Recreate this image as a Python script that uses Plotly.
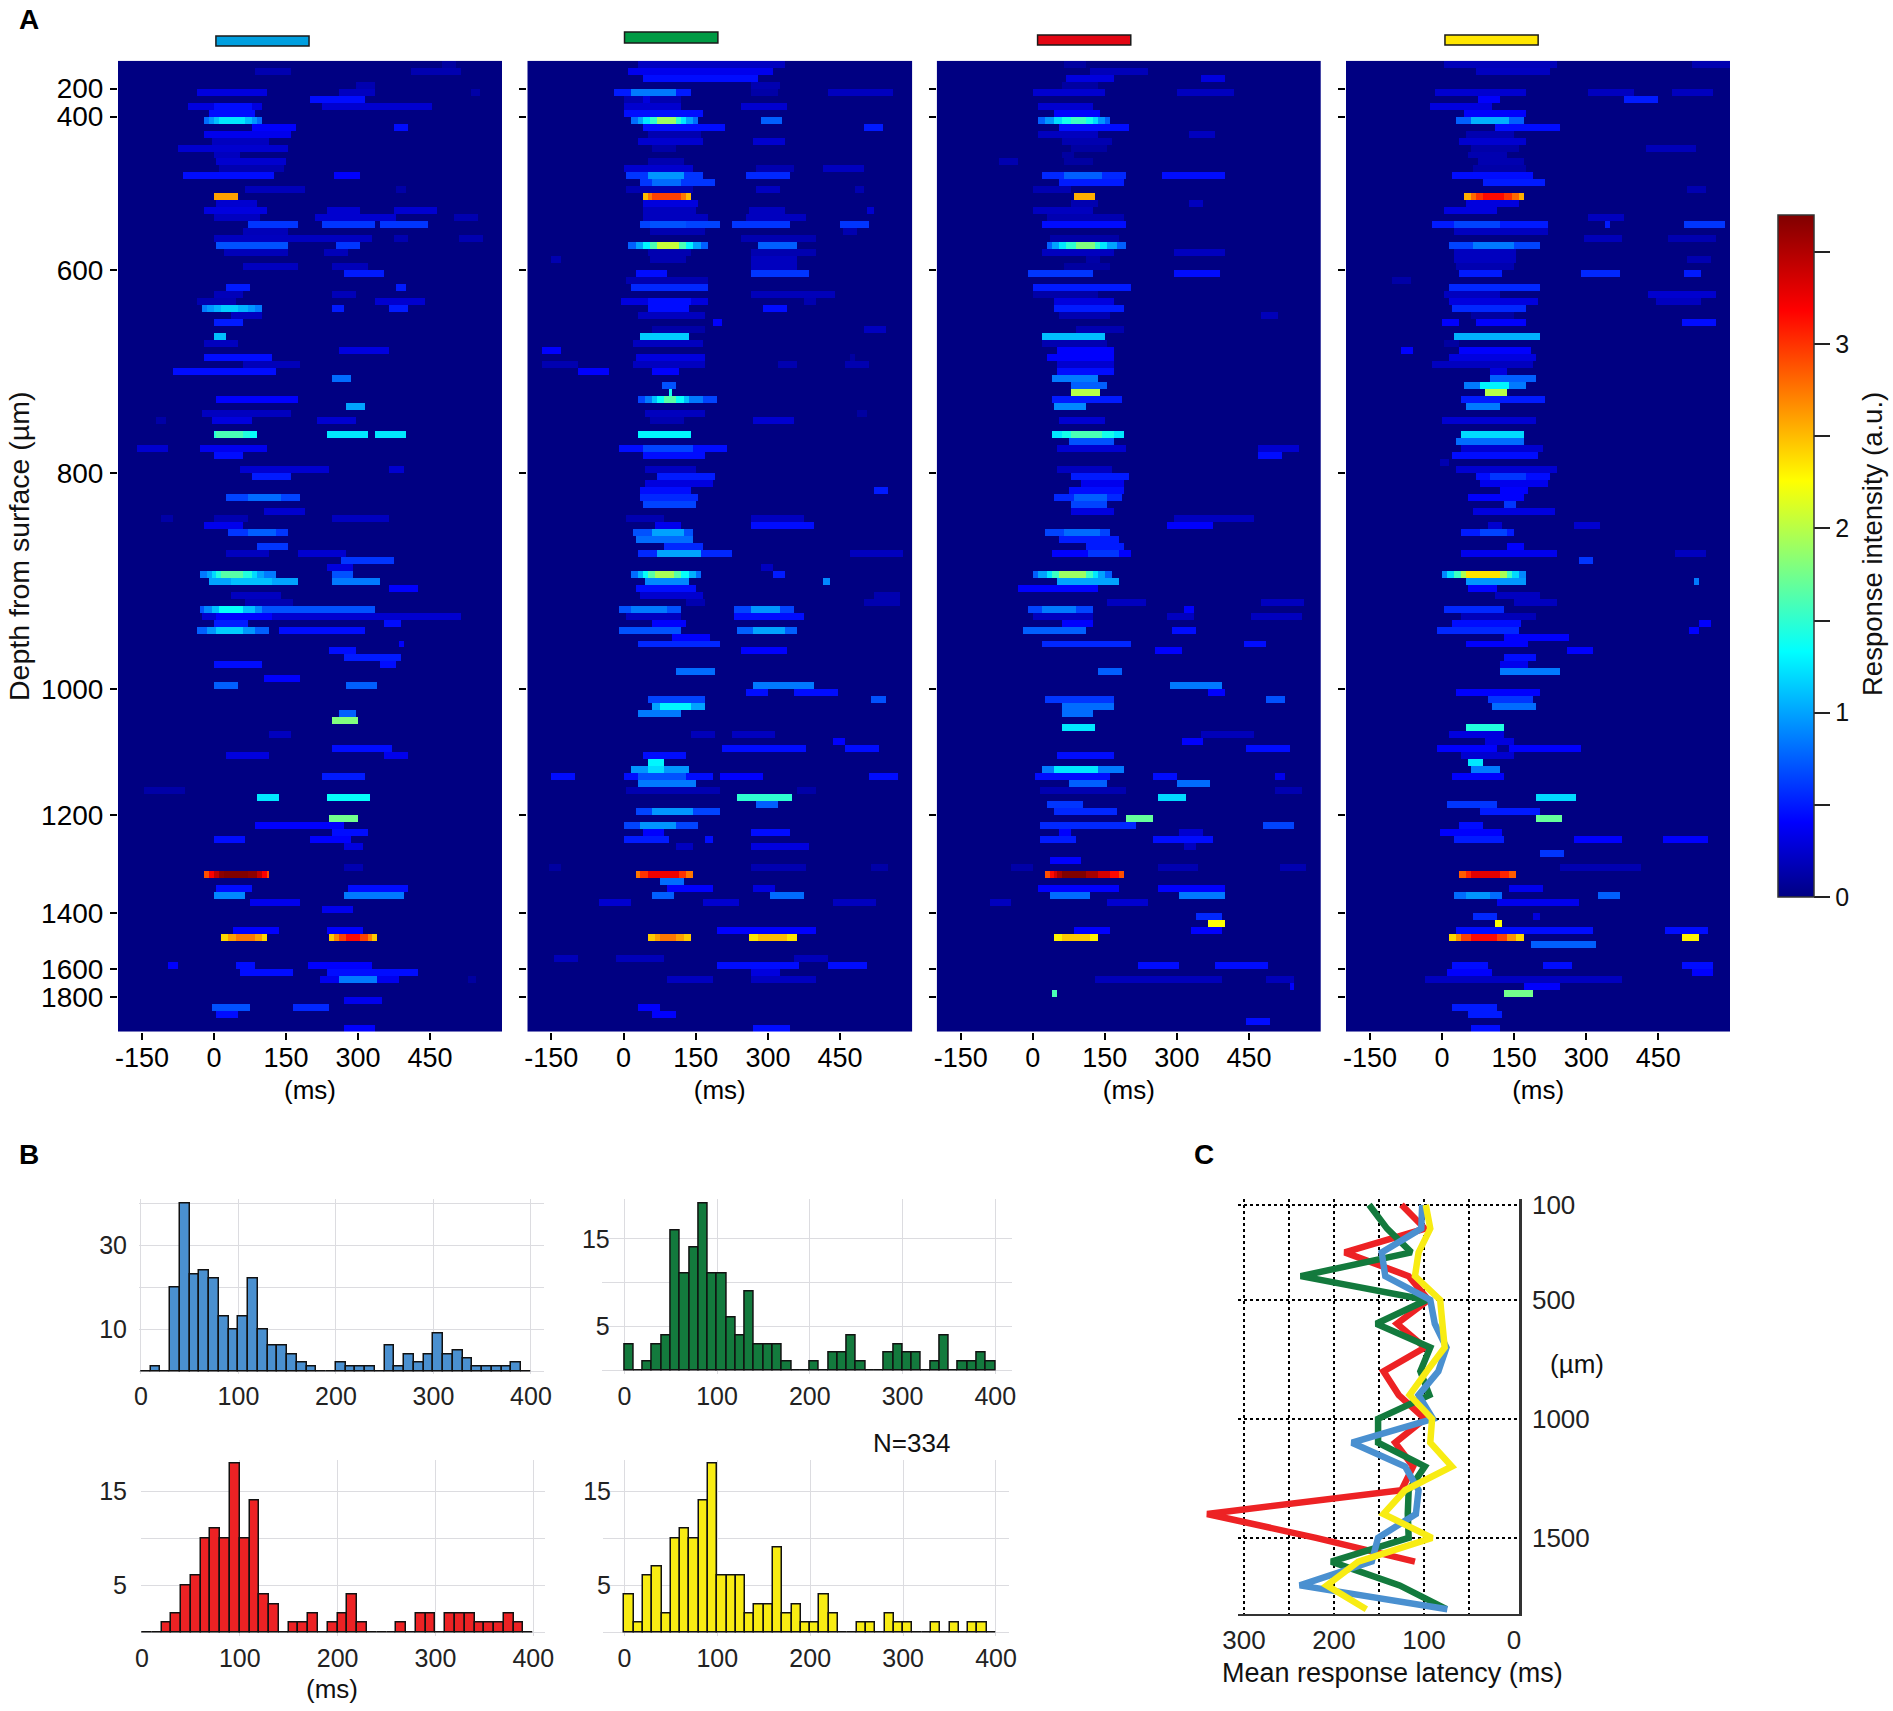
#!/usr/bin/env python3

import numpy as np
import plotly.graph_objects as go

W = 1893
H = 1711

# Panel A: (row, start ms, end ms, intensity). Later entries sit on top of earlier ones.
bars_blue = [
    (0, 477, 505, .1), (1, 87, 158, .15), (1, 410, 515, .15), (3, 297, 336, .15),
    (4, -37, 110, .3), (4, 258, 336, .2), (4, 533, 554, .12), (5, 198, 315, .45),
    (6, -55, 102, .3), (6, -2, 82, .45), (6, 227, 455, .25), (7, -9, 86, .45),
    (8, -22, 98, .8), (8, -12, 90, .95), (8, -2, 78, 1.1), (8, 10, 66, 1.25),
    (9, 82, 170, .4), (9, 375, 406, .45),
    (10, -20, 160, .35), (11, -6, 114, .2), (12, -76, 156, .25), (13, 1, 54, .2),
    (14, 5, 149, .25), (15, 12, 146, .15), (16, -63, 126, .45), (16, 251, 306, .4),
    (18, 65, 188, .18), (18, 382, 399, .12), (19, 0, 51, 2.6), (20, 5, 89, .25),
    (21, -18, 110, .3), (21, 234, 304, .25), (21, 377, 466, .25), (22, -2, 96, .2),
    (22, 209, 378, .25), (22, 501, 550, .15), (23, 72, 174, .6), (23, 227, 336, .6),
    (23, 343, 447, .6), (24, 61, 153, .18), (25, 1, 329, .2), (25, 375, 403, .15),
    (25, 508, 561, .15), (26, 3, 153, .7), (26, 255, 304, .6), (27, 19, 156, .18),
    (27, 230, 280, .18), (29, 60, 177, .2), (29, 244, 322, .18), (30, 272, 353, .5),
    (32, 23, 74, .5), (32, 382, 401, .5), (33, -2, 61, .18), (33, 244, 297, .18),
    (34, -34, 47, .15), (34, 336, 438, .25), (35, -27, 98, .85), (35, -15, 85, .95),
    (35, 0, 70, 1.05), (35, 15, 50, 1.15),
    (35, 243, 271, .5), (35, 367, 404, .5), (36, 33, 102, .2), (37, 1, 58, .5),
    (39, 0, 27, 1.1), (40, -21, 51, .2), (41, 262, 364, .3), (42, -20, 118, .45),
    (43, 61, 181, .18), (44, -83, 132, .45), (45, 245, 283, .8), (48, 7, 176, .4),
    (49, 276, 317, 1.0), (50, -23, 158, .2), (51, -6, 82, .3), (51, 216, 297, .25),
    (51, -120, -102, .12), (53, -2, 92, 1.35), (53, 0, 75, 1.45), (53, 5, 60, 1.6),
    (53, 237, 320, 1.25),
    (53, 333, 401, 1.25), (55, -158, -94, .25), (55, -28, 110, .35), (56, 0, 58, .45),
    (58, 53, 241, .25), (58, 367, 397, .25), (59, 81, 161, .5), (62, 26, 181, .65),
    (62, 70, 140, .8), (64, 107, 188, .25), (65, -108, -83, .12), (65, 1, 72, .15),
    (65, 244, 367, .2), (66, -20, 58, .35), (67, 31, 155, .6), (67, 70, 130, .75),
    (69, 88, 156, .6), (70, 25, 114, .2), (70, 177, 276, .25), (71, 263, 375, .6),
    (72, 236, 290, .3), (73, -30, 132, .85), (73, -15, 105, 1.0), (73, -5, 90, 1.2),
    (73, 5, 78, 1.45), (73, 15, 60, 1.65), (73, 246, 292, .7),
    (74, -11, 175, 1.0), (74, 33, 118, 1.1), (74, 246, 346, .85), (75, 364, 427, .4),
    (76, 33, 142, .2), (77, 65, 167, .15), (78, -29, 334, .7), (78, -20, 100, .9),
    (78, -5, 85, 1.1), (78, 10, 60, 1.35),
    (79, -27, 515, .25), (79, 5, 118, .4), (80, 0, 68, .5), (80, 353, 390, .45),
    (81, -36, 115, .75), (81, -15, 85, .95), (81, 5, 60, 1.15), (81, 133, 315, .45),
    (83, 384, 396, .4),
    (84, 242, 297, .45), (85, 269, 391, .5), (86, -1, 98, .45), (86, 343, 379, .45),
    (88, 107, 180, .4), (89, 0, 48, .75), (89, 275, 341, .75), (93, 258, 297, .75),
    (94, 246, 302, 1.8), (96, 115, 161, .2), (98, 247, 369, .45), (99, 27, 113, .3),
    (99, 353, 403, .35), (102, 225, 315, .5), (104, -146, -58, .12), (105, 92, 134, 1.25),
    (105, 234, 324, 1.35), (108, 238, 298, 1.75), (109, 84, 269, .4), (110, 244, 318, .45),
    (111, 0, 63, .45), (111, 199, 287, .4), (112, 271, 311, .3), (115, 269, 308, .15),
    (116, -18, 116, 2.9), (116, -10, 108, 3.2), (116, 0, 98, 3.45), (116, 8, 88, 3.65),
    (116, 18, 70, 3.72), (118, 3, 80, .45),
    (118, 280, 403, .45), (119, 0, 64, .9), (119, 269, 393, .85), (120, 75, 181, .35),
    (121, 225, 288, .35), (124, 39, 135, .4), (124, 234, 308, .4), (125, 15, 111, 2.4),
    (125, 30, 100, 2.6), (125, 45, 85, 2.75), (125, 241, 341, 2.45), (125, 250, 332, 2.7),
    (125, 262, 320, 2.95), (125, 275, 305, 3.15), (129, -95, -74, .4),
    (129, 44, 86, .45), (129, 197, 332, .4), (130, 54, 167, .45), (130, 237, 425, .45),
    (131, 221, 385, .35), (131, 258, 342, .85), (131, 529, 547, .1), (134, 272, 350, .35),
    (135, -6, 77, .7), (135, 165, 242, .55), (136, 3, 48, .45), (138, 269, 334, .4),
]

bars_green = [
    (0, 28, 333, .2), (1, 10, 312, .35), (2, 42, 281, .45), (3, 263, 326, .15),
    (4, -21, 139, .5), (4, 14, 111, .85), (4, 263, 319, .12), (4, 426, 558, .2),
    (5, 0, 118, .15), (5, 38, 55, .3), (6, 0, 118, .25), (6, 243, 340, .25),
    (7, 0, 163, .45), (8, 17, 156, .8), (8, 28, 145, 1.0), (8, 40, 130, 1.25),
    (8, 55, 120, 1.5), (8, 70, 110, 1.9),
    (8, 284, 329, .75), (9, 38, 209, .45), (9, 499, 541, .5), (10, 49, 159, .15),
    (11, 31, 163, .25), (11, 270, 336, .25), (12, 62, 111, .12), (14, 49, 125, .15),
    (15, 0, 146, .25), (15, 277, 353, .15), (15, 416, 499, .2), (16, 3, 163, .6),
    (16, 49, 125, .95), (16, 256, 343, .55), (17, 35, 191, .6), (17, 62, 118, .8),
    (18, 7, 146, .15), (18, 274, 326, .2), (18, 478, 499, .15), (19, 40, 142, 2.5),
    (19, 50, 130, 2.75), (19, 62, 118, 2.95), (20, 42, 156, .3), (21, 38, 152, .2),
    (21, 260, 333, .2),
    (21, 506, 518, .25), (22, 38, 173, .2), (22, 256, 378, .2), (23, 36, 199, .65),
    (23, 55, 132, .7), (23, 225, 343, .6), (23, 452, 508, .6), (24, 55, 170, .15),
    (24, 457, 485, .15), (25, 243, 398, .15), (26, 10, 175, .75), (26, 25, 160, 1.0),
    (26, 40, 145, 1.3), (26, 55, 130, 1.6), (26, 72, 115, 2.05),
    (26, 279, 362, .75), (27, 52, 139, .15), (27, 263, 398, .15),
    (28, -152, -128, .15), (28, 55, 132, .15), (28, 267, 360, .2), (29, 267, 360, .2),
    (30, 24, 89, .45), (30, 263, 387, .6), (31, 7, 173, .15), (32, 17, 175, .55),
    (33, 267, 440, .18), (34, -7, 175, .3), (34, 49, 139, .45), (34, 374, 398, .15),
    (35, 49, 135, .45), (35, 289, 340, .45), (36, 28, 170, .2), (37, 184, 204, .4),
    (38, 59, 170, .12), (38, 499, 547, .2), (39, 36, 134, 1.15), (40, 21, 166, .2),
    (41, -170, -128, .4), (42, 24, 170, .3), (42, 468, 482, .1), (43, -170, -97, .15),
    (43, 21, 170, .2), (43, 319, 360, .15), (43, 461, 509, .15), (44, -97, -28, .4),
    (44, 62, 116, .4), (46, 80, 111, .7), (47, 95, 100, 1.4), (48, 29, 195, .65),
    (48, 45, 165, .85), (48, 60, 135, 1.1), (48, 72, 125, 1.35), (48, 85, 110, 1.65),
    (50, 45, 170, .2), (50, 485, 506, .1),
    (51, 55, 125, .15), (51, 270, 357, .25), (53, 31, 142, 1.3), (55, -8, 213, .45),
    (55, 42, 146, .65), (56, 38, 170, .45), (58, 47, 149, .2), (59, 71, 188, .5),
    (60, 45, 187, .3), (61, 36, 139, .45), (61, 522, 551, .5), (62, 35, 156, .55),
    (63, 40, 148, .65), (65, 7, 83, .15), (65, 263, 374, .2), (66, 66, 118, .35),
    (66, 265, 395, .45), (67, 22, 147, .7), (67, 62, 125, 1.0), (68, 23, 146, .8),
    (69, 87, 164, .55), (70, 31, 227, .55), (70, 69, 159, 1.0), (70, 471, 579, .2),
    (72, 284, 310, .2), (73, 16, 161, .8), (73, 28, 150, 1.05), (73, 40, 135, 1.35),
    (73, 52, 120, 1.65), (73, 65, 105, 1.95),
    (73, 312, 335, .5), (74, 46, 137, .9), (74, 416, 431, .9), (75, 26, 149, .45),
    (76, 35, 166, .25), (76, 520, 575, .15), (77, 132, 170, .15), (77, 502, 575, .15),
    (78, -9, 121, .7), (78, 14, 90, .85), (78, 232, 357, .65), (78, 263, 326, .95),
    (79, 7, 118, .2), (79, 232, 374, .45), (80, 62, 128, .4), (81, -9, 120, .7),
    (81, 236, 362, .75), (81, 270, 333, 1.0), (82, 98, 182, .4), (83, 31, 201, .55),
    (84, 243, 342, .4), (87, 111, 189, .8), (89, 272, 393, .85), (90, 255, 299, .45),
    (90, 353, 444, .45), (91, 50, 172, .65), (91, 513, 545, .7), (92, 58, 170, 1.0),
    (92, 76, 139, 1.3), (93, 28, 119, .85), (96, 140, 188, .18), (96, 227, 315, .2),
    (97, 434, 459, .4), (98, 204, 378, .45), (98, 459, 530, .45), (99, 42, 130, .45),
    (100, 49, 85, 1.3), (101, 16, 134, .95), (101, 49, 85, 1.2), (102, -152, -100, .45),
    (102, -1, 187, .45), (102, 28, 132, .7), (102, 198, 288, .4), (102, 509, 572, .45),
    (103, 28, 151, .85), (104, 3, 201, .15), (104, 360, 398, .12), (105, 237, 352, 1.5),
    (106, 276, 321, .75), (107, 23, 199, .65), (107, 62, 146, .95), (109, 1, 157, .65),
    (109, 35, 111, .95), (110, 38, 83, .4), (110, 267, 346, .45), (111, 2, 97, .5),
    (111, 170, 185, .45), (112, 111, 146, .2), (112, 267, 387, .3), (115, -156, -128, .1),
    (115, 267, 378, .15), (115, 513, 551, .12), (116, 24, 144, 2.75), (116, 35, 130, 3.0),
    (116, 50, 115, 3.25),
    (117, 74, 126, .8), (118, 90, 187, .4), (118, 270, 315, .3), (119, 59, 107, .75),
    (119, 305, 376, .8), (120, -49, 16, .25), (120, 163, 241, .25), (120, 437, 527, .2),
    (124, 196, 398, .4), (125, 51, 139, 2.45), (125, 65, 125, 2.6), (125, 75, 110, 2.75),
    (125, 258, 360, 2.35),
    (125, 280, 340, 2.5), (128, -146, -94, .18), (128, -14, 83, .18), (128, 353, 423, .18),
    (129, 194, 367, .45), (129, 426, 504, .45), (130, 265, 327, .3), (131, 90, 187, .2),
    (131, 263, 402, .2), (135, 29, 73, .4), (136, 60, 109, .4), (138, 270, 343, .45),
]

bars_red = [
    (0, 64, 109, .1), (1, 119, 240, .18), (2, 72, 168, .3), (2, 351, 402, .3),
    (3, 60, 133, .1), (4, -2, 150, .25), (4, 299, 421, .2), (6, 8, 123, .25),
    (7, 46, 140, .4), (8, 10, 162, .75), (8, 25, 150, .95), (8, 45, 135, 1.2),
    (8, 62, 125, 1.4), (8, 78, 112, 1.55),
    (9, 57, 200, .45), (10, 12, 133, .2), (10, 327, 381, .2), (11, 60, 164, .15),
    (12, 78, 154, .1), (13, 60, 85, .1), (14, -71, -30, .15), (14, 67, 123, .1),
    (16, 22, 195, .55), (16, 64, 147, .75), (16, 268, 400, .45), (17, 55, 192, .5),
    (18, 1, 78, .15), (19, 83, 128, 2.55), (20, 78, 133, .15), (20, 324, 355, .2),
    (21, 1, 126, .2), (22, 29, 192, .15), (23, 22, 193, .45), (25, 33, 178, .12),
    (26, 29, 193, .75), (26, 42, 175, 1.0), (26, 57, 155, 1.25), (26, 72, 140, 1.5),
    (26, 88, 128, 1.8), (27, 19, 168, .2),
    (27, 296, 400, .2), (28, 109, 140, .12), (29, 64, 161, .1), (30, -8, 124, .6),
    (30, 295, 389, .45), (32, 0, 207, .5), (33, 1, 133, .12), (34, 46, 171, .3),
    (35, 44, 188, .5), (36, 57, 161, .15), (36, 473, 511, .18), (38, 88, 188, .15),
    (39, 21, 152, 1.1), (40, 22, 154, .15), (41, 49, 171, .4), (42, 29, 171, .4),
    (43, 50, 171, .25), (44, 49, 171, .45), (45, 38, 137, .85), (46, 78, 155, .75),
    (47, 82, 139, 2.0), (48, 38, 187, .5), (49, 43, 111, .9), (51, 57, 150, .25),
    (53, 41, 191, 1.25), (53, 60, 170, 1.4), (53, 78, 147, 1.6), (54, 74, 168, .7),
    (55, 49, 195, .25),
    (55, 468, 557, .25), (56, 468, 521, .45), (58, 49, 166, .2), (59, 78, 202, .5),
    (60, 98, 192, .35), (61, 76, 192, .45), (62, 46, 183, .55), (62, 85, 154, .75),
    (63, 80, 154, .65), (64, 78, 170, .3), (65, 296, 459, .2), (66, 279, 377, .4),
    (67, 26, 159, .65), (67, 64, 140, .8), (68, 55, 182, .5), (69, 109, 190, .5),
    (70, 41, 206, .4), (70, 113, 182, .6), (73, -2, 164, .75), (73, 12, 150, 1.0),
    (73, 28, 135, 1.25), (73, 42, 125, 1.55), (73, 55, 110, 1.9),
    (74, 48, 180, 1.0), (75, -28, 137, .4), (77, 154, 237, .2),
    (77, 477, 566, .2), (78, -9, 124, .65), (78, 22, 92, .85), (78, 315, 335, .4),
    (79, -2, 123, .2), (79, 282, 334, .2), (79, 455, 558, .2), (80, 58, 123, .4),
    (81, -21, 109, .75), (81, 292, 341, .45), (83, 19, 206, .55), (83, 441, 486, .45),
    (84, 256, 310, .4), (87, 133, 183, .75), (89, 283, 396, .85), (90, 365, 400, .4),
    (91, 26, 168, .6), (91, 484, 525, .7), (92, 59, 168, .8), (93, 59, 123, .8),
    (95, 60, 128, 1.25), (96, 348, 462, .18), (97, 308, 355, .4), (98, 445, 536, .45),
    (99, 49, 172, .45), (101, 22, 192, .85), (101, 43, 133, 1.25), (102, 3, 159, .45),
    (102, 251, 301, .45), (102, 507, 527, .35), (103, 76, 154, .75), (103, 301, 371, .8),
    (104, 17, 195, .15), (104, 507, 558, .15), (105, 258, 322, 1.2), (106, 29, 107, .6),
    (107, 44, 175, .55), (108, 193, 252, 1.7), (109, 13, 217, .55), (109, 480, 546, .65),
    (110, 53, 78, .4), (110, 306, 355, .25), (111, 17, 89, .5), (111, 251, 377, .45),
    (112, 315, 339, .2), (114, 36, 102, .4), (115, -44, 1, .12), (115, 261, 347, .15),
    (115, 514, 570, .15), (116, 26, 191, 2.9), (116, 35, 178, 3.15), (116, 43, 160, 3.35),
    (116, 52, 135, 3.55), (116, 62, 110, 3.72),
    (118, 10, 180, .4), (118, 259, 400, .4), (119, 33, 118, .8), (119, 305, 400, .85),
    (120, -92, -44, .2), (120, 154, 238, .25), (122, 339, 393, .55), (123, 366, 400, 2.25),
    (124, 86, 161, .4), (124, 329, 395, .4), (125, 44, 134, 2.3), (125, 62, 118, 2.45),
    (129, 220, 306, .45), (129, 381, 488, .45), (131, 131, 396, .18), (131, 486, 545, .18),
    (132, 535, 547, .4), (133, 42, 51, 1.6), (137, 446, 493, .45),
]

bars_yellow = [
    (0, 3, 238, .18), (0, 519, 599, .15), (1, 72, 225, .2), (4, -15, 173, .25),
    (4, 304, 401, .2), (4, 481, 564, .2), (5, 76, 121, .4), (5, 380, 448, .5),
    (6, -24, 103, .3), (7, 46, 176, .4), (8, 30, 171, .75), (8, 58, 141, 1.05),
    (9, 110, 245, .45), (10, 48, 148, .15), (11, 34, 176, .25), (12, 58, 162, .12),
    (12, 425, 529, .18), (13, 55, 134, .15), (14, 76, 169, .15), (15, 65, 173, .12),
    (16, 22, 191, .45), (17, 86, 214, .5), (18, 512, 550, .15), (19, 46, 171, 2.55),
    (19, 58, 158, 2.8), (19, 70, 145, 3.0), (19, 85, 130, 3.15),
    (20, 51, 159, .3), (21, 3, 114, .3), (22, 304, 380, .2),
    (23, -20, 218, .5), (23, 24, 121, .65), (23, 339, 349, .5), (23, 505, 588, .6),
    (24, 24, 218, .2), (25, 297, 373, .18), (25, 470, 568, .15), (26, 17, 205, .65),
    (26, 65, 148, .85), (27, 27, 155, .2), (28, 27, 155, .2), (28, 509, 561, .15),
    (29, 31, 148, .15), (30, 33, 126, .5), (30, 289, 369, .55), (30, 504, 538, .5),
    (31, -105, -63, .12), (32, 15, 205, .55), (33, 3, 121, .2), (33, 429, 571, .25),
    (34, 13, 200, .3), (34, 446, 540, .2), (35, 22, 175, .55), (36, 58, 148, .1),
    (37, -1, 33, .4), (37, 72, 173, .4), (37, 502, 570, .45), (39, 27, 204, 1.05),
    (40, 6, 37, .1), (41, -87, -58, .4), (41, 37, 183, .4), (42, 17, 193, .3),
    (43, -21, 190, .2), (44, 98, 137, .3), (45, 100, 197, .75), (46, 43, 173, .85),
    (46, 79, 141, 1.3), (47, 88, 137, 2.0), (48, 39, 216, .5), (49, 48, 121, .85),
    (51, 1, 197, .25), (53, 42, 170, 1.2), (54, 30, 169, .8), (55, 41, 211, .25),
    (56, 22, 200, .45), (57, -6, 17, .15), (58, 30, 240, .25), (59, 72, 223, .45),
    (59, 100, 176, .6), (60, 79, 221, .35), (61, 119, 181, .4), (62, 57, 168, .4),
    (63, 128, 157, .6), (64, 63, 233, .3), (66, 96, 123, .25), (66, 273, 328, .25),
    (67, 41, 152, .5), (67, 79, 135, .65), (69, 134, 170, .4), (70, 39, 238, .35),
    (70, 486, 550, .2), (71, 286, 315, .6), (73, -1, 174, .9), (73, 12, 160, 1.2),
    (73, 25, 145, 1.55), (73, 38, 135, 1.95), (73, 50, 118, 2.35),
    (74, 50, 176, .95), (74, 523, 535, .85), (75, 53, 114, .4),
    (76, 110, 207, .2), (77, 148, 242, .2), (78, 4, 130, .55), (79, 41, 197, .18),
    (80, 18, 167, .45), (80, 536, 559, .4), (81, -11, 159, .55), (81, 516, 533, .4),
    (82, 129, 263, .4), (83, 49, 178, .4), (84, 259, 313, .4), (85, 130, 197, .45),
    (86, 118, 178, .35), (87, 119, 244, .85), (90, 32, 206, .4), (91, 94, 188, .6),
    (92, 107, 197, .8), (95, 50, 128, 1.45), (96, 13, 128, .3), (97, 89, 148, .3),
    (98, -9, 290, .4), (98, 114, 138, .05), (99, 41, 152, .25), (100, 57, 83, 1.25),
    (101, 62, 118, .85), (102, 18, 132, .4), (105, 195, 278, 1.2), (106, 8, 117, .6),
    (107, 81, 204, .5), (108, 193, 249, 1.7), (109, 37, 87, .45), (110, -7, 123, .4),
    (111, 24, 128, .5), (111, 274, 374, .4), (111, 459, 554, .4), (113, 204, 256, .6),
    (115, 245, 415, .15), (116, 34, 155, 2.85), (116, 48, 140, 3.05), (116, 62, 120, 3.3),
    (118, 138, 212, .35),
    (119, 24, 124, .8), (119, 51, 100, .95), (119, 326, 370, .75), (120, 114, 287, .35),
    (122, 63, 114, .55), (122, 191, 204, .3), (123, 108, 123, 2.25), (124, 32, 313, .45),
    (124, 465, 556, .45), (125, 15, 168, 2.4), (125, 28, 155, 2.65), (125, 42, 135, 2.95),
    (125, 60, 115, 3.15), (125, 500, 536, 2.3),
    (126, 183, 319, .75), (129, 18, 96, .45), (129, 212, 270, .45), (129, 500, 567, .45),
    (130, 8, 103, .4), (130, 519, 567, .4), (131, -35, 377, .2), (132, 168, 244, .4),
    (133, 130, 192, 1.75), (135, 20, 114, .5), (136, 55, 123, .5), (138, 58, 119, .45),
]

n_rows = 139
time_bins = np.arange(-197.5, 600, 5)
depth_labels = [200, 400, 600, 800, 1000, 1200, 1400, 1600, 1800]
depth_rows = [4, 8, 30, 59, 90, 108, 122, 130, 134]
time_ticks = [-150, 0, 150, 300, 450]
time_labels = ["-150", "0", "150", "300", "450"]
intensity_ticks = [0, .5, 1, 1.5, 2, 2.5, 3, 3.5]
intensity_labels = ["0", "", "1", "", "2", "", "3", ""]
stim_start = [4, 2, 10, 6]
stim_end = [198, 196, 204, 200]

# Panel B: counts in 10 ms bins
hist_bins = np.arange(5, 400, 10)
hist_blue = [0, 1, 0, 20, 40, 23, 24, 22, 13, 10, 13, 22, 10, 6, 6, 4, 2, 1, 0, 0,
             2, 1, 1, 1, 0, 6, 1, 4, 2, 4, 9, 4, 5, 3, 1, 1, 1, 1, 2, 0]
hist_green = [3, 0, 1, 3, 4, 16, 11, 14, 19, 11, 11, 6, 4, 9, 3, 3, 3, 1, 0, 0,
              1, 0, 2, 2, 4, 1, 0, 0, 2, 3, 2, 2, 0, 1, 4, 0, 1, 1, 2, 1]
hist_red = [0, 0, 1, 2, 5, 6, 10, 11, 10, 18, 10, 14, 4, 3, 0, 1, 1, 2, 0, 1,
            2, 4, 1, 0, 0, 0, 1, 0, 2, 2, 0, 2, 2, 2, 1, 1, 1, 2, 1, 0]
hist_yellow = [4, 1, 6, 7, 2, 10, 11, 10, 14, 18, 6, 6, 6, 2, 3, 3, 9, 2, 3, 1,
               1, 4, 2, 0, 0, 1, 1, 0, 2, 1, 1, 0, 0, 1, 0, 1, 0, 1, 1, 0]

# Panel C
latency_depth = [100, 200, 300, 400, 500, 600, 700, 800, 900, 1000, 1100, 1200, 1300,
                 1400, 1500, 1600, 1700, 1800]
latency_red = [125, 99, 188, 117, 95, 130, 99, 145, 128, 99, 132, 112, 125, 341, 220, 110]
latency_green = [161, 141, 114, 237, 97, 153, 93, 104, 94, 151, 151, 99, 117, 118, 117, 203, 127, 75]
latency_blue = [102, 103, 147, 143, 93, 88, 75, 84, 106, 90, 180, 121, 106, 109, 151, 158, 238, 74]
latency_yellow = [98, 93, 106, 110, 82, 80, 77, 97, 116, 91, 93, 69, 121, 145, 91, 173, 208, 164]

blue = "#4A90D0"
green = "#137A3D"
red = "#ED2224"
yellow = "#F8EC13"
jet = [[0, "rgb(0,0,130)"], [.11, "rgb(0,0,255)"], [.36, "rgb(0,255,255)"],
       [.61, "rgb(255,255,0)"], [.86, "rgb(255,0,0)"], [1, "rgb(128,0,0)"]]
sans = "Liberation Sans"


def dx(left, right):
    return [left / W, right / W]


def dy(top, bottom):
    return [1 - bottom / H, 1 - top / H]


def rows_to_z(bars):
    z = np.zeros((n_rows, len(time_bins)))
    for row, t0, t1, value in bars:
        z[row, (time_bins >= t0) & (time_bins < t1)] = value
    return z


fig = go.Figure()

panels = [bars_blue, bars_green, bars_red, bars_yellow]
panel_x = [(118, 502), (527.3, 912.3), (936.7, 1321), (1346, 1730.3)]
stim_colors = ["#009FDF", "#009A44", "#E30613", "#FFE600"]
stim_y = [(36, 46), (32, 43), (35, 45), (35, 45)]

layout_axes = {}
for i, bars in enumerate(panels):
    n = i + 1
    fig.add_trace(go.Heatmap(x=time_bins, y=np.arange(n_rows) + .5, z=rows_to_z(bars),
                             coloraxis="coloraxis", xaxis=f"x{n}", yaxis=f"y{n}",
                             hoverinfo="skip"))
    layout_axes[f"xaxis{n}"] = dict(
        domain=dx(*panel_x[i]), range=[-200, 600], anchor=f"y{n}", tickvals=time_ticks,
        ticktext=time_labels,
        ticks="outside", ticklen=7, tickwidth=1.5, tickcolor="black", showgrid=False,
        zeroline=False, tickfont=dict(size=27, color="black"), ticklabelstandoff=-5,
        title=dict(text="(ms)", font=dict(size=26, color="black"), standoff=8))
    layout_axes[f"yaxis{n}"] = dict(
        domain=dy(60.7, 1031.7), range=[n_rows, 0], anchor=f"x{n}", tickvals=depth_rows,
        ticktext=[str(d) for d in depth_labels], showticklabels=i == 0, ticks="outside",
        ticklen=7, tickwidth=1.5, tickcolor="black", showgrid=False, zeroline=False,
        tickfont=dict(size=28, color="black"), ticklabelstandoff=1)
    fig.add_shape(type="rect", xref=f"x{n}", yref="paper",
                  x0=stim_start[i], x1=stim_end[i],
                  y0=1 - stim_y[i][1] / H, y1=1 - stim_y[i][0] / H,
                  fillcolor=stim_colors[i], line=dict(color="#1a1a1a", width=1.5))

hists = [
    (hist_blue, blue, (139, 543.6), (1198.5, 1374), [-2, 413], [-.7, 41.1], [10, 20, 30, 40, 0], ["10", "", "30", "", ""], 11),
    (hist_green, green, (601.7, 1011.7), (1198.5, 1374), [-24.4, 417.7], [-.4, 19.6], [5, 10, 15, 0], ["5", "", "15", ""], -9),
    (hist_red, red, (141, 545), (1459.6, 1636), [-1, 412], [-.4, 18.4], [5, 10, 15, 0], ["5", "", "15", ""], 13),
    (hist_yellow, yellow, (603, 1009), (1459.6, 1636), [-23, 414], [-.4, 18.4], [5, 10, 15, 0], ["5", "", "15", ""], -9),
]
for i, (counts, color, xs, ys, xr, yr, yt, ytt, standoff) in enumerate(hists):
    n = i + 5
    fig.add_trace(go.Bar(x=hist_bins, y=counts, width=10, xaxis=f"x{n}", yaxis=f"y{n}",
                         marker=dict(color=color, line=dict(color="#111111", width=1.5)),
                         hoverinfo="skip"))
    layout_axes[f"xaxis{n}"] = dict(
        domain=dx(*xs), range=xr, anchor=f"y{n}", tickvals=[0, 100, 200, 300, 400],
        gridcolor="#DCDCE0", gridwidth=1.2, zeroline=False, showline=False,
        ticks="", ticklabelstandoff=5, tickfont=dict(size=25, color="#222222"))
    layout_axes[f"yaxis{n}"] = dict(
        domain=dy(*ys), range=yr, anchor=f"x{n}", tickvals=yt, ticktext=ytt,
        gridcolor="#DCDCE0", gridwidth=1.2, zeroline=False, showline=False,
        ticks="", tickfont=dict(size=25, color="#222222"), ticklabelstandoff=standoff)

# lines sit on a wider overlay with the same scale, so the red peak is not clipped
line_sets = [(latency_red, red), (latency_green, green), (latency_blue, blue), (latency_yellow, yellow)]
for values, color in line_sets:
    fig.add_trace(go.Scatter(x=values, y=latency_depth[:len(values)], mode="lines",
                             line=dict(color=color, width=6.5, shape="linear"),
                             xaxis="x10", yaxis="y10", hoverinfo="skip"))

layout_axes["xaxis9"] = dict(
    domain=dx(1237.7, 1519), range=[307, -5.6], anchor="y9", tickvals=[300, 200, 100, 0],
    showgrid=False, zeroline=False, showline=True, linecolor="#333333", linewidth=2,
    ticks="outside", ticklen=1, tickcolor="rgba(0,0,0,0)",
    tickfont=dict(size=26, color="#222222"),
    minor=dict(tickvals=[300, 250, 200, 150, 100, 50], showgrid=True, griddash="dot",
               gridcolor="black", gridwidth=1.5, ticks=""))
layout_axes["yaxis9"] = dict(
    domain=dy(1198.5, 1614.4), range=[1822, 73.5], anchor="x9", side="right",
    tickvals=[100, 500, 1000, 1500], griddash="dot", gridcolor="black", gridwidth=1.5,
    zeroline=False, showline=True, linecolor="#333333", linewidth=2.5,
    ticks="outside", ticklen=5, tickcolor="rgba(0,0,0,0)",
    tickfont=dict(size=26, color="#222222"))
layout_axes["xaxis10"] = dict(domain=dx(1190, 1519), range=[360, -5.6], anchor="y10", visible=False)
layout_axes["yaxis10"] = dict(domain=dy(1198.5, 1614.4), range=[1822, 73.5], anchor="x10", visible=False)
fig.add_trace(go.Scatter(x=[], y=[], xaxis="x9", yaxis="y9", hoverinfo="skip"))

notes = [
    ("A", 29, 19, 28, True, 0),
    ("B", 29, 1154, 28, True, 0),
    ("C", 1204, 1154, 28, True, 0),
    ("Depth from surface (\u00b5m)", 19, 547, 28.5, False, -90),
    ("N=334", 911, 1443, 26, False, 0),
    ("(ms)", 332, 1689, 26, False, 0),
    ("(\u00b5m)", 1577, 1364, 26, False, 0),
    ("Mean response latency (ms)", 1392, 1673, 27, False, 0),
    ("Response intensity (a.u.)", 1872, 544, 27.5, False, -90),
]
annotations = []
for text, px, py, size, bold, angle in notes:
    annotations.append(dict(
        text=f"<b>{text}</b>" if bold else text, x=px / W, y=1 - py / H,
        xref="paper", yref="paper", showarrow=False, xanchor="center", yanchor="middle",
        textangle=angle, font=dict(size=size, color="black" if bold else "#111111")))

fig.update_layout(
    width=W, height=H, margin=dict(l=0, r=0, t=0, b=0, autoexpand=False), autosize=False,
    paper_bgcolor="white", plot_bgcolor="rgba(0,0,0,0)", showlegend=False, bargap=0,
    font=dict(family=sans), annotations=annotations,
    coloraxis=dict(
        cmin=0, cmax=3.7, colorscale=jet,
        colorbar=dict(
            x=1778 / W, xanchor="left", y=1 - 897 / H, yanchor="bottom",
            lenmode="pixels", len=682, thicknessmode="pixels", thickness=36, xpad=0, ypad=0,
            outlinecolor="#333333", outlinewidth=1.5, tickvals=intensity_ticks,
            ticktext=intensity_labels, ticks="outside", ticklen=16, tickwidth=1.5,
            tickcolor="#222222", tickfont=dict(size=25, color="#111111"))),
    **layout_axes)

fig.write_html("out.html", config={"displayModeBar": False},
               post_script="document.body.style.margin='0'")
